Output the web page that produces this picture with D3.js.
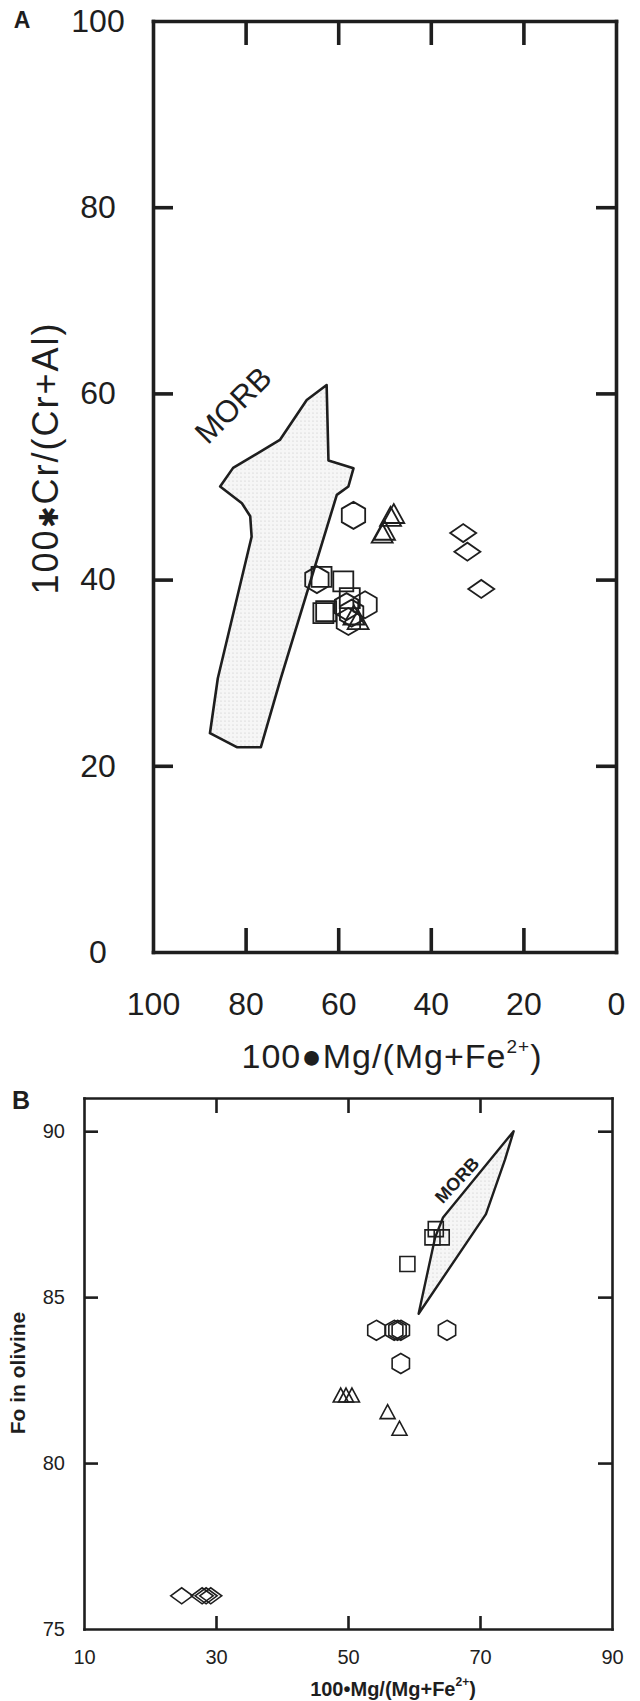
<!DOCTYPE html>
<html>
<head>
<meta charset="utf-8">
<script src="https://cdn.jsdelivr.net/npm/d3@7"></script>
<style>
  body { margin: 0; background: #fff; }
  svg { display: block; font-family: "Liberation Sans", Arial, sans-serif; }
</style>
</head>
<body>
<div id="chart"></div>
<script>
// --- Panel A: 100*Cr/(Cr+Al) vs 100*Mg/(Mg+Fe2+) ---
const xTicksA = [100, 80, 60, 40, 20, 0];
const yTicksA = [0, 20, 40, 60, 80, 100];
const morbA = [
    [62.5, 60.9], [66.8, 59.3], [72.6, 55.0], [82.7, 52.0], [85.5, 50.0],
    [80.8, 48.2], [79.0, 46.8], [78.7, 44.6], [86.0, 29.4], [87.7, 23.5],
    [81.9, 22.0], [76.7, 22.0], [72.4, 29.4], [60.3, 49.1], [57.8, 50.0],
    [56.7, 51.95], [62.1, 52.8]
];
const hexagonsA = [
    [56.7, 46.9], [64.6, 40.0], [58.2, 37.1], [57.1, 36.4], [57.8, 35.5], [54.2, 37.3]
];
const squaresA = [
    [63.6, 40.3], [58.9, 39.8], [63.2, 36.4], [62.6, 36.6], [57.5, 38.0]
];
const trianglesA = [
    [48.7, 46.8], [48.0, 47.1], [50.5, 45.0], [50.0, 45.3], [55.7, 35.7], [56.6, 36.2]
];
const diamondsA = [
    [33.0, 45.0], [32.1, 43.0], [29.1, 39.0]
];

// --- Panel B: Fo in olivine vs 100*Mg/(Mg+Fe2+) ---
const xTicksB = [10, 30, 50, 70, 90];
const yTicksB = [75, 80, 85, 90];
const morbB = [
    [75.1, 90.0], [73.8, 89.15], [70.9, 87.5], [60.7, 84.5], [63.2, 86.8], [64.4, 87.4]
];
const squaresB = [
    [63.3, 87.05], [64.2, 86.8], [62.8, 86.8], [59.0, 86.0]
];
const hexagonsB = [
    [54.3, 84.0], [57.0, 84.0], [57.5, 84.0], [58.0, 84.0], [65.0, 84.0], [58.0, 83.0]
];
const trianglesB = [
    [48.9, 82.05], [49.7, 82.05], [50.6, 82.05], [56.0, 81.55], [57.8, 81.05]
];
const diamondsB = [
    [24.8, 76.0], [27.9, 76.0], [28.5, 76.0], [29.2, 76.0]
];

const width = 640, height = 1701;
const ink = "#1e1e1e";

const svg = d3.select("#chart").append("svg")
    .attr("width", width)
    .attr("height", height);

// stippled fill for the MORB fields
const pattern = svg.append("defs").append("pattern")
    .attr("id", "stipple")
    .attr("width", 4).attr("height", 4)
    .attr("patternUnits", "userSpaceOnUse");
pattern.append("rect").attr("width", 4).attr("height", 4).attr("fill", "#f6f6f6");
pattern.append("circle").attr("cx", 1).attr("cy", 1).attr("r", 0.6).attr("fill", "#c4c4c4");

// marker outlines, centred on 0,0
const shapes = {
    hexagon: r => "M" + d3.range(6).map(i => {
        const a = Math.PI / 3 * i - Math.PI / 2;
        return [r * Math.cos(a), r * Math.sin(a)];
    }).join("L") + "Z",
    square: s => `M${-s / 2},${-s / 2}h${s}v${s}h${-s}Z`,
    triangle: (w, h) => `M0,${-h / 2}L${w / 2},${h / 2}L${-w / 2},${h / 2}Z`,
    diamond: (w, h) => `M${-w / 2},0L0,${-h / 2}L${w / 2},0L0,${h / 2}Z`
};

function plotMarkers(g, data, x, y, path, sw) {
    g.append("g").selectAll("path")
        .data(data)
        .join("path")
        .attr("transform", d => `translate(${x(d[0])},${y(d[1])})`)
        .attr("d", path)
        .attr("fill", "none")
        .attr("stroke", ink)
        .attr("stroke-width", sw);
}

function styleAxis(g, sw, fontSize) {
    g.attr("font-family", "Liberation Sans, Arial, sans-serif")
        .attr("font-size", fontSize);
    g.select(".domain").attr("stroke", ink).attr("stroke-width", sw).attr("stroke-linecap", "square");
    g.selectAll(".tick line").attr("stroke", ink).attr("stroke-width", sw);
    g.selectAll(".tick text").attr("fill", ink);
}

// ================= Panel A =================
const xA = d3.scaleLinear().domain([100, 0]).range([153, 616]);
const yA = d3.scaleLinear().domain([0, 100]).range([952, 21]);
const gA = svg.append("g");

gA.append("path")
    .datum(morbA)
    .attr("d", d3.line().x(d => xA(d[0])).y(d => yA(d[1])).curve(d3.curveLinearClosed))
    .attr("fill", "url(#stipple)")
    .attr("stroke", ink)
    .attr("stroke-width", 2.6)
    .attr("stroke-linejoin", "round");

gA.append("text")
    .attr("transform", "translate(233,405) rotate(-45)")
    .attr("text-anchor", "middle")
    .attr("dy", "0.35em")
    .attr("font-size", 31)
    .attr("fill", ink)
    .text("MORB");

plotMarkers(gA, squaresA, xA, yA, shapes.square(20), 1.8);
plotMarkers(gA, hexagonsA, xA, yA, shapes.hexagon(13.5), 1.8);
plotMarkers(gA, trianglesA, xA, yA, shapes.triangle(21, 19), 1.8);
plotMarkers(gA, diamondsA, xA, yA, shapes.diamond(26, 18), 1.8);

// axes (frame on all four sides, ticks pointing inward)
const axBottomA = gA.append("g")
    .attr("transform", `translate(0,${yA(0)})`)
    .call(d3.axisBottom(xA).tickValues(xTicksA).tickSize(-24).tickSizeOuter(0).tickPadding(40));
styleAxis(axBottomA, 3.6, 32);
axBottomA.selectAll(".tick line").filter(d => d === 100 || d === 0).remove();

const axTopA = gA.append("g")
    .attr("transform", `translate(0,${yA(100)})`)
    .call(d3.axisTop(xA).tickValues(xTicksA.slice(1, -1)).tickSize(-24).tickSizeOuter(0).tickFormat(""));
styleAxis(axTopA, 3.6, 32);

const axLeftA = gA.append("g")
    .attr("transform", `translate(${xA(100)},0)`)
    .call(d3.axisLeft(yA).tickValues(yTicksA).tickSize(-20).tickSizeOuter(0));
styleAxis(axLeftA, 3.6, 32);
axLeftA.selectAll(".tick line").filter(d => d === 0 || d === 100).remove();
axLeftA.selectAll(".tick text").attr("text-anchor", "middle").attr("x", -55);

const axRightA = gA.append("g")
    .attr("transform", `translate(${xA(0)},0)`)
    .call(d3.axisRight(yA).tickValues(yTicksA.slice(1, -1)).tickSize(-20).tickSizeOuter(0).tickFormat(""));
styleAxis(axRightA, 3.6, 32);

// titles
const xTitleA = gA.append("text")
    .attr("x", 392)
    .attr("y", 1068)
    .attr("text-anchor", "middle")
    .attr("font-size", 34)
    .attr("letter-spacing", 1)
    .attr("fill", ink);
xTitleA.append("tspan").text("100\u25CFMg/(Mg+Fe");
xTitleA.append("tspan").attr("font-size", 19).attr("dy", -15).text("2+");
xTitleA.append("tspan").attr("dy", 15).text(")");

const yTitleA = gA.append("text")
    .attr("transform", "translate(45,458) rotate(-90)")
    .attr("text-anchor", "middle")
    .attr("dy", "0.35em")
    .attr("font-size", 36)
    .attr("letter-spacing", 2)
    .attr("fill", ink);
yTitleA.append("tspan").text("100");
yTitleA.append("tspan").attr("font-size", 26).text("\u2731");
yTitleA.append("tspan").text("Cr/(Cr+Al)");

gA.append("text")
    .attr("x", 22)
    .attr("y", 28)
    .attr("text-anchor", "middle")
    .attr("font-size", 23)
    .attr("font-weight", "bold")
    .attr("fill", ink)
    .text("A");

// ================= Panel B =================
const xB = d3.scaleLinear().domain([10, 90]).range([84, 612]);
const yB = d3.scaleLinear().domain([75, 91]).range([1629, 1098]);
const gB = svg.append("g");

gB.append("path")
    .datum(morbB)
    .attr("d", d3.line().x(d => xB(d[0])).y(d => yB(d[1])).curve(d3.curveLinearClosed))
    .attr("fill", "url(#stipple)")
    .attr("stroke", ink)
    .attr("stroke-width", 2.4)
    .attr("stroke-linejoin", "round");

gB.append("text")
    .attr("transform", "translate(457,1180) rotate(-47)")
    .attr("text-anchor", "middle")
    .attr("dy", "0.35em")
    .attr("font-size", 18)
    .attr("font-weight", "bold")
    .attr("fill", ink)
    .text("MORB");

plotMarkers(gB, squaresB, xB, yB, shapes.square(15), 1.6);
plotMarkers(gB, hexagonsB, xB, yB, shapes.hexagon(10), 1.6);
plotMarkers(gB, trianglesB, xB, yB, shapes.triangle(15, 14), 1.6);
plotMarkers(gB, diamondsB, xB, yB, shapes.diamond(22, 16), 1.6);

const axBottomB = gB.append("g")
    .attr("transform", `translate(0,${yB(75)})`)
    .call(d3.axisBottom(xB).tickValues(xTicksB).tickSize(-13).tickSizeOuter(0).tickPadding(21));
styleAxis(axBottomB, 2.6, 20);
axBottomB.selectAll(".tick line").filter(d => d === 10 || d === 90).remove();

const axTopB = gB.append("g")
    .attr("transform", `translate(0,${yB(91)})`)
    .call(d3.axisTop(xB).tickValues(xTicksB.slice(1, -1)).tickSize(-15).tickSizeOuter(0).tickFormat(""));
styleAxis(axTopB, 2.6, 20);

const axLeftB = gB.append("g")
    .attr("transform", `translate(${xB(10)},0)`)
    .call(d3.axisLeft(yB).tickValues(yTicksB).tickSize(-14).tickSizeOuter(0).tickPadding(19));
styleAxis(axLeftB, 2.6, 20);
axLeftB.selectAll(".tick line").filter(d => d === 75).remove();

const axRightB = gB.append("g")
    .attr("transform", `translate(${xB(90)},0)`)
    .call(d3.axisRight(yB).tickValues(yTicksB.slice(1)).tickSize(-14).tickSizeOuter(0).tickFormat(""));
styleAxis(axRightB, 2.6, 20);

const xTitleB = gB.append("text")
    .attr("x", 393)
    .attr("y", 1696)
    .attr("text-anchor", "middle")
    .attr("font-size", 20)
    .attr("font-weight", "bold")
    .attr("fill", ink);
xTitleB.append("tspan").text("100\u2022Mg/(Mg+Fe");
xTitleB.append("tspan").attr("font-size", 12).attr("dy", -10).text("2+");
xTitleB.append("tspan").attr("dy", 10).text(")");

gB.append("text")
    .attr("transform", "translate(18,1373) rotate(-90)")
    .attr("text-anchor", "middle")
    .attr("dy", "0.35em")
    .attr("font-size", 21)
    .attr("font-weight", "bold")
    .attr("fill", ink)
    .text("Fo in olivine");

gB.append("text")
    .attr("x", 21)
    .attr("y", 1109)
    .attr("text-anchor", "middle")
    .attr("font-size", 25)
    .attr("font-weight", "bold")
    .attr("fill", ink)
    .text("B");
</script>
</body>
</html>
